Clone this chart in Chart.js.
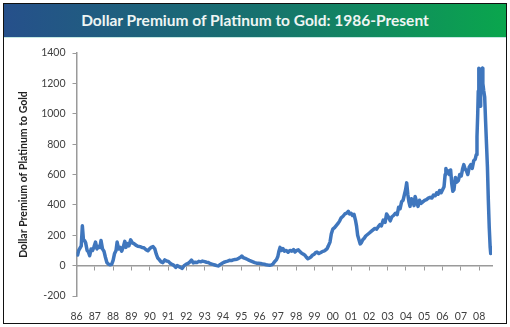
<!DOCTYPE html>
<html>
<head>
<meta charset="utf-8">
<script src="https://cdn.jsdelivr.net/npm/chart.js@4/dist/chart.umd.min.js"></script>
<style>
  html, body { margin: 0; padding: 0; background: #fff; }
  #frame { position: absolute; left: 3px; top: 3px; width: 502px; height: 319px; border: 1px solid #111; background: #fff; }
  #banner {
    position: absolute; left: 0; top: 0; width: 502px; height: 33px;
    background: linear-gradient(to right, #26508b, #17716f 50%, #0aa64d);
    border-bottom: 1px solid #c4e8e2;
    color: #eef5f3; font: bold 15.5px Lato, sans-serif; text-align: center; line-height: 33px;
  }
  #wrap { position: absolute; left: 0; top: 34px; width: 502px; height: 285px; }
</style>
</head>
<body>
<div id="frame">
  <div id="banner">Dollar Premium of Platinum to Gold: 1986-Present</div>
  <div id="wrap"><canvas id="chart"></canvas></div>
</div>
<script>
// decimal year of each reading
const dates = [
  1986.00, 1986.06, 1986.12, 1986.19, 1986.26, 1986.32, 1986.38, 1986.44, 1986.50, 1986.58,
  1986.65, 1986.72, 1986.80, 1986.88, 1986.96, 1987.04, 1987.12, 1987.20, 1987.28, 1987.34,
  1987.42, 1987.50, 1987.58, 1987.66, 1987.74, 1987.84, 1987.92, 1988.00, 1988.08, 1988.16,
  1988.22, 1988.30, 1988.38, 1988.47, 1988.56, 1988.64, 1988.70, 1988.78, 1988.86, 1988.96,
  1989.05, 1989.14, 1989.24, 1989.35, 1989.47, 1989.58, 1989.68, 1989.80, 1989.90, 1990.00,
  1990.08, 1990.18, 1990.28, 1990.36, 1990.44, 1990.52, 1990.62, 1990.72, 1990.82, 1990.92,
  1991.02, 1991.12, 1991.22, 1991.32, 1991.42, 1991.50, 1991.58, 1991.68, 1991.78, 1991.88,
  1992.00, 1992.10, 1992.20, 1992.28, 1992.38, 1992.48, 1992.58, 1992.68, 1992.78, 1992.88,
  1993.00, 1993.10, 1993.20, 1993.32, 1993.44, 1993.56, 1993.66, 1993.76, 1993.86, 1993.96,
  1994.06, 1994.16, 1994.26, 1994.36, 1994.46, 1994.56, 1994.66, 1994.76, 1994.86, 1994.96,
  1995.03, 1995.12, 1995.22, 1995.32, 1995.44, 1995.54, 1995.64, 1995.74, 1995.84, 1995.94,
  1996.06, 1996.16, 1996.26, 1996.36, 1996.46, 1996.56, 1996.66, 1996.74, 1996.82, 1996.92,
  1997.00, 1997.06, 1997.12, 1997.20, 1997.28, 1997.36, 1997.46, 1997.56, 1997.66, 1997.76,
  1997.86, 1997.94, 1998.04, 1998.12, 1998.22, 1998.30, 1998.40, 1998.49, 1998.56, 1998.64,
  1998.72, 1998.80, 1998.90, 1998.98, 1999.06, 1999.14, 1999.24, 1999.32, 1999.42, 1999.50,
  1999.58, 1999.68, 1999.76, 1999.85, 1999.92, 2000.00, 2000.10, 2000.20, 2000.30, 2000.38,
  2000.46, 2000.56, 2000.66, 2000.76, 2000.85, 2000.92, 2001.00, 2001.08, 2001.16, 2001.24,
  2001.30, 2001.36, 2001.42, 2001.50, 2001.56, 2001.64, 2001.72, 2001.80, 2001.90, 2002.00,
  2002.10, 2002.20, 2002.30, 2002.40, 2002.48, 2002.58, 2002.66, 2002.76, 2002.86, 2002.94,
  2003.04, 2003.14, 2003.22, 2003.32, 2003.42, 2003.52, 2003.60, 2003.68, 2003.76, 2003.84,
  2003.92, 2003.98, 2004.04, 2004.10, 2004.16, 2004.22, 2004.30, 2004.38, 2004.44, 2004.50,
  2004.58, 2004.66, 2004.74, 2004.82, 2004.92, 2005.02, 2005.12, 2005.22, 2005.32, 2005.42,
  2005.50, 2005.60, 2005.68, 2005.76, 2005.84, 2005.92, 2006.00, 2006.08, 2006.14, 2006.18,
  2006.24, 2006.30, 2006.38, 2006.44, 2006.50, 2006.56, 2006.62, 2006.70, 2006.78, 2006.86,
  2006.94, 2007.02, 2007.10, 2007.16, 2007.22, 2007.30, 2007.38, 2007.46, 2007.54, 2007.62,
  2007.70, 2007.78, 2007.84, 2007.88, 2007.92, 2007.95, 2007.98, 2008.02, 2008.05, 2008.08,
  2008.12, 2008.16, 2008.20, 2008.25, 2008.30, 2008.35, 2008.40, 2008.45, 2008.50, 2008.55,
  2008.60, 2008.63
];

// platinum price minus gold price, $/oz
const premium = [
    90,   70,  100,  115,  130,  262,  170,  165,  150,  100,
    90,   65,  110,  100,  125,  155,  110,  125,  120,  165,
   110,   95,   55,   20,   10,    5,    8,   35,   80,  100,
   155,  110,  120,   95,  125,  160,  120,  145,  130,  170,
   150,  145,  135,  128,  125,  120,  118,  105,   98,  112,
   120,  125,  110,   75,   50,   40,   25,   20,   38,   30,
    28,   15,    8,    2,  -12,    0,   -5,  -12,  -18,    0,
    10,   15,   25,   37,   18,   22,   20,   28,   25,   30,
    26,   22,   20,   12,    8,    4,    0,   -2,    8,   15,
    22,   26,   30,   35,   33,   38,   40,   42,   48,   55,
    63,   52,   48,   42,   35,   30,   25,   20,   16,   15,
    14,   10,    9,    6,    4,    3,    5,   12,   26,   38,
    60,   95,  120,  100,  112,   95,  100,   88,  100,   95,
   105,   90,  100,  104,   90,   82,   75,   67,   55,   45,
    50,   56,   70,   74,   85,   89,   80,   85,   92,   95,
   100,  110,  130,  155,  208,  240,  250,  265,  280,  295,
   315,  325,  340,  345,  358,  340,  345,  330,  338,  300,
   260,  200,  175,  143,  150,  170,  180,  195,  205,  215,
   225,  235,  245,  240,  255,  270,  262,  300,  285,  340,
   320,  295,  320,  330,  345,  335,  385,  375,  420,  430,
   470,  500,  545,  470,  420,  390,  440,  430,  395,  455,
   420,  390,  430,  410,  420,  430,  435,  445,  450,  445,
   465,  460,  480,  470,  495,  480,  500,  520,  600,  640,
   610,  625,  600,  630,  540,  490,  500,  580,  550,  560,
   600,  590,  640,  665,  640,  625,  600,  650,  665,  640,
   690,  700,  730,  850, 1000, 1150, 1300, 1100, 1050, 1200,
  1250, 1300, 1200, 1150, 1110,  950,  800,  650,  430,  250,
   120,   80
];

const yTicks = [-200, 0, 200, 400, 600, 800, 1000, 1200, 1400];
const yearLabels = ['86', '87', '88', '89', '90', '91', '92', '93', '94', '95', '96', '97',
  '98', '99', '00', '01', '02', '03', '04', '05', '06', '07', '08'];

const X_MIN = 1986;
const X_MAX = 2008.7;

const points = dates.map((d, i) => ({ x: d, y: premium[i] }));
const tickFont = { family: 'Lato, sans-serif', size: 10.5 };

new Chart(document.getElementById('chart'), {
  type: 'line',
  data: {
    datasets: [{
      data: points,
      borderColor: '#3f76bd',
      borderWidth: 3.5,
      borderJoinStyle: 'round',
      pointRadius: 0,
      tension: 0,
      fill: false
    }]
  },
  options: {
    responsive: true,
    maintainAspectRatio: false,
    animation: false,
    layout: { padding: { left: 0, right: 14, top: 15, bottom: 0 } },
    plugins: { legend: { display: false }, tooltip: { enabled: false } },
    scales: {
      x: {
        type: 'linear',
        min: X_MIN,
        max: X_MAX,
        grid: { display: false },
        border: { display: false },
        ticks: {
          stepSize: 1,
          includeBounds: false,
          autoSkip: false,
          maxRotation: 0,
          padding: 6,
          color: '#404040',
          font: tickFont,
          callback: v => yearLabels[Math.round(v) - X_MIN]
        },
        afterFit: s => { s.height = 27; }
      },
      x0: {
        axis: 'x',
        type: 'linear',
        position: { y: 0 },
        min: X_MIN,
        max: X_MAX,
        ticks: { display: false, stepSize: 1, includeBounds: false },
        grid: { drawOnChartArea: false, drawTicks: true, tickLength: 4, color: '#9a9a9a' },
        border: { color: '#9a9a9a', width: 1.5 }
      },
      y: {
        min: yTicks[0],
        max: yTicks[yTicks.length - 1],
        grid: { drawOnChartArea: false, drawTicks: true, tickLength: 4, color: '#9a9a9a' },
        border: { color: '#9a9a9a', width: 1.5 },
        ticks: {
          stepSize: 200,
          padding: 7,
          color: '#404040',
          font: tickFont,
          callback: v => String(v)
        },
        title: {
          display: true,
          text: 'Dollar Premium of Platinum to Gold',
          color: '#222',
          font: { family: 'Lato, sans-serif', size: 10.5, weight: 'bold' },
          padding: { top: 13, bottom: 0 }
        },
        afterFit: s => { s.width = 72.5; }
      }
    }
  }
});
</script>
</body>
</html>
